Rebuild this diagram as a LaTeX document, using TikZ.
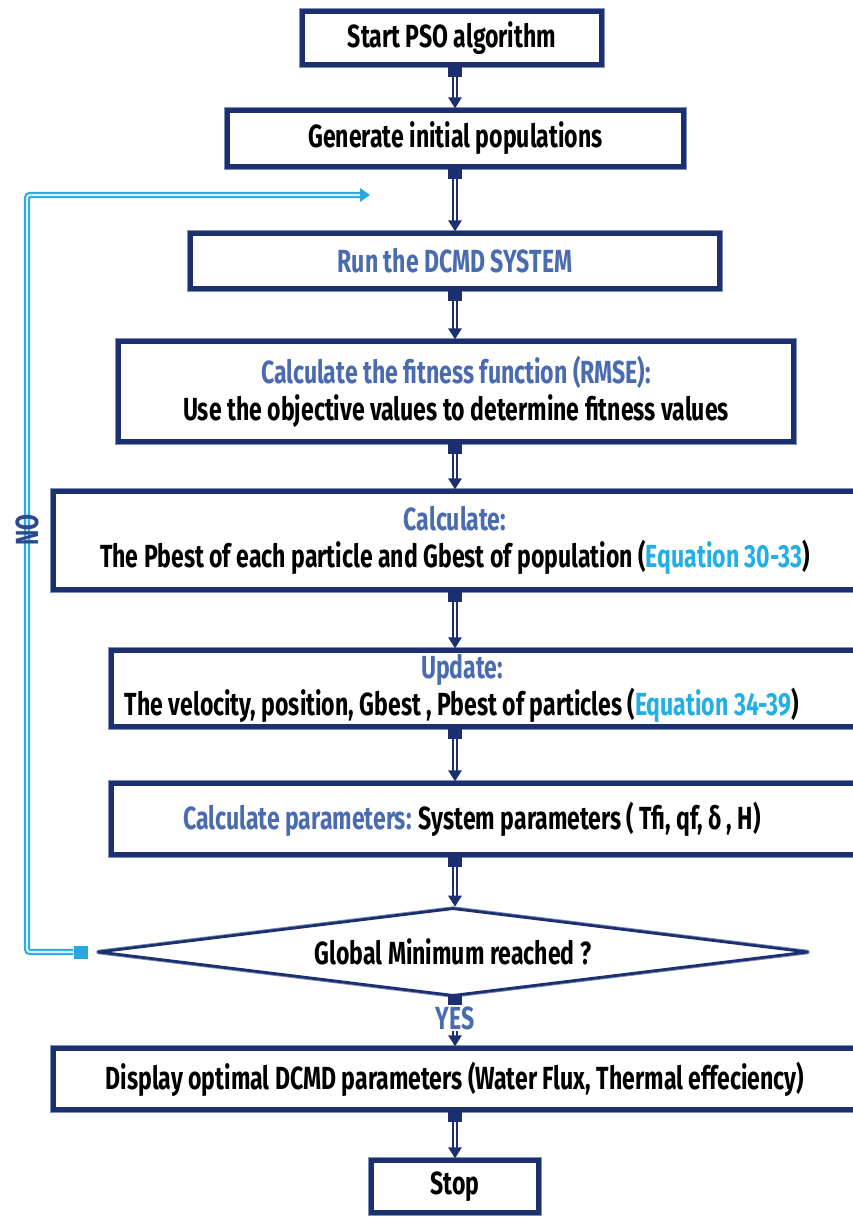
\documentclass[tikz,border=0pt]{standalone}
\usepackage{fontspec}
\setmainfont{Fira Sans}[FakeStretch=0.72]
\usetikzlibrary{calc,shapes.geometric}

\definecolor{navy}{HTML}{1C2F6F}
\definecolor{rim}{HTML}{7F8FB8}
\definecolor{headblue}{HTML}{4A6BB0}
\definecolor{eqcyan}{HTML}{22B0E4}
\definecolor{loopcyan}{HTML}{29A8E0}
\definecolor{nonavy}{HTML}{2B4A8E}

\tikzset{
  flowbox/.style={rectangle, draw=navy, line width=4.5pt, fill=white,
    inner sep=0pt, align=center, preaction={draw=rim, line width=7.5pt}},
  boxtext/.style={inner sep=0pt, align=center},
  decision/.style={diamond, draw=navy, line width=2.8pt, fill=white,
    line join=round, inner sep=0pt, shape aspect=7.9,
    preaction={draw=rim, line width=4.6pt, line join=round}},
  linkline/.style={draw=navy, line width=2pt, double=white,
    double distance=2.6pt, shorten >=9pt},
  linksq/.style={rectangle, fill=navy, minimum width=14pt,
    minimum height=12pt, inner sep=0pt},
  loopline/.style={draw=loopcyan, line width=2pt, double=white!80!loopcyan,
    double distance=2.2pt, rounded corners=3pt, shorten >=8pt},
  loopsq/.style={rectangle, fill=loopcyan, minimum width=14pt,
    minimum height=13pt, inner sep=0pt},
}

% downward link along the spine: square at the source, double shaft, triangle at the target
\newcommand\flowlink[2]{%
  \draw[linkline] (#1.south -| spine) -- (#2.north -| spine);
  \fill[navy] ($(#2.north -| spine)+(-7,-11)$) -- ($(#2.north -| spine)+(7,-11)$)
    -- (#2.north -| spine) -- cycle;
  \node[linksq] at ($(#1.south -| spine)+(0,4)$) {};
}

\begin{document}
\begin{tikzpicture}[x=1pt, y=-1pt, font=\bfseries\fontsize{32}{37}\selectfont]
\useasboundingbox (0,0) rectangle (853,1218);
\coordinate (spine) at (455,0);

\node[flowbox, minimum width=299pt, minimum height=53pt] (start) at (452,38)
  {Start PSO algorithm};
\node[flowbox, minimum width=456pt, minimum height=56pt] (init) at (455.5,138.5)
  {Generate initial populations};
\node[flowbox, minimum width=529pt, minimum height=55pt] (run) at (455,261)
  {\color{headblue}Run the DCMD SYSTEM};
\node[flowbox, minimum width=675pt, minimum height=100pt] (fit) at (456,391.5)
  {{\color{headblue}Calculate the fitness function (RMSE):}\\
   Use the objective values to determine fitness values};
\node[flowbox, minimum width=803pt, minimum height=98pt] (best) at (455,540.5)
  {{\color{headblue}Calculate:}\\
   The Pbest of each particle and Gbest of population ({\color{eqcyan}Equation 30-33})};
\node[flowbox, minimum width=745pt, minimum height=76pt] (upd) at (484,688.5) {};
\node[boxtext] (updtext) at (462,688.5)
  {{\color{headblue}Update:}\\
   The velocity, position, Gbest , Pbest of particles ({\color{eqcyan}Equation 34-39})};
\node[flowbox, minimum width=745pt, minimum height=71pt] (par) at (484,819) {};
\node[boxtext] (partext) at (472,819)
  {{\color{headblue}Calculate parameters:} System parameters ( Tfi, qf, δ , H)};
\node[decision, minimum width=710pt, minimum height=88pt] (dec) at (453,952)
  {Global Minimum reached ?};
\node[flowbox, minimum width=803pt, minimum height=61pt] (disp) at (455,1079)
  {Display optimal DCMD parameters (Water Flux, Thermal effeciency)};
\node[flowbox, minimum width=167pt, minimum height=52pt] (stop) at (455,1186.5)
  {Stop};

% main flow
\flowlink{start}{init}
\flowlink{init}{run}
\flowlink{run}{fit}
\flowlink{fit}{best}
\flowlink{best}{upd}
\flowlink{upd}{par}
\flowlink{par}{dec}
\flowlink{dec}{disp}
\flowlink{disp}{stop}
\node[fill=white, inner sep=1pt, text=headblue] (yes) at (455,1018) {YES};

% return path when the minimum is not reached
\node[loopsq] (lsq) at ($(dec.west)+(-16,0)$) {};
\coordinate (corner) at (27,195);
\coordinate (back) at (370,195);
\draw[loopline] (lsq.west) -| (corner) -- (back);
\fill[loopcyan] ($(back)+(-10,-7)$) -- (back) -- ($(back)+(-10,7)$) -- cycle;
\node[rotate=90, text=nonavy, inner sep=0pt] (no) at (27,530) {NO};
\end{tikzpicture}
\end{document}
